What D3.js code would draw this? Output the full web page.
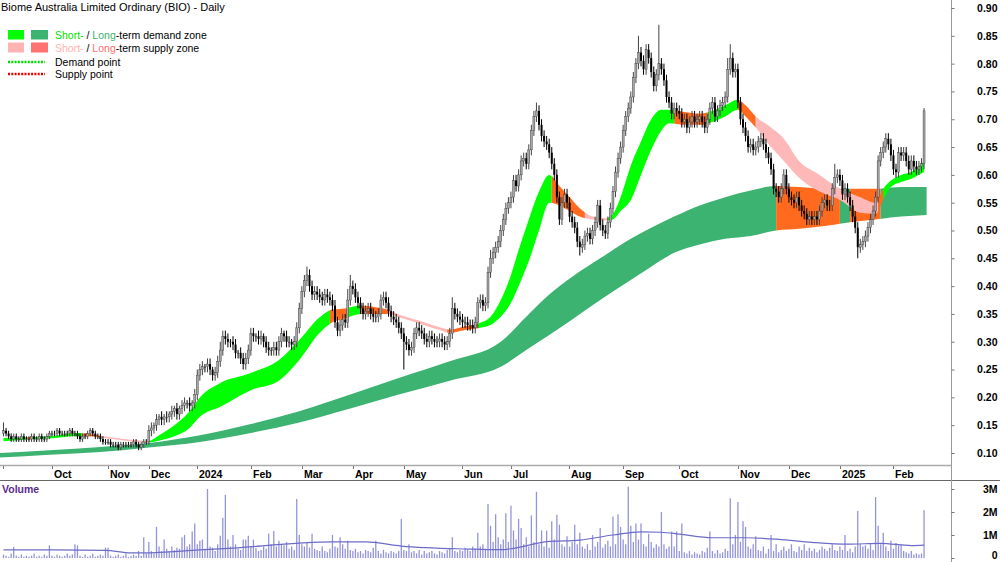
<!DOCTYPE html>
<html>
<head>
<meta charset="utf-8">
<script src="https://cdn.jsdelivr.net/npm/d3@7"></script>
<style>
body{margin:0;background:#fff;}
svg{display:block;font-family:Arial,"Liberation Sans",sans-serif;}
</style>
</head>
<body>
<svg id="chart" width="1000" height="562"></svg>
<script>
// prices in cents, one value per trading bar (Sep 2023 .. Feb 2025)
const opens = [
 13.5,14,13.5,13,12.5,13,12.5,12.5,13,12.5,12.5,12.5,13,12.5,12.5,13,12.5,12.5,13,
 13.5,13.5,13.5,14,13.5,13.5,13.5,13.5,14,13.5,13.5,13,12.5,13,13,13.5,14,13.5,13,13,12.5,12,
 12,12,11.5,11.5,11.5,11,11.5,11.5,11.5,11.5,11.5,12,11.5,11,11.5,12,
 12,14,14.5,15,16,16.5,16,16.5,16.5,17,17.5,18,17,18,18.5,19,19,18.5,19,
 20.5,24,25,25.5,25.5,26,25,24,24.5,26.5,28.5,31,30.5,30,30,29.5,28,28,27,26,27,
 28.5,31.5,31,31,30.5,31,30,29,28.5,28.5,29,28.5,30,31.5,31,30,30,29.5,30,32.5,
 36,39,41,42,40,38.5,39,38.5,38,37.5,38.5,38,37.5,36.5,33.5,32,33,34,33.5,37.5,
 40,39.5,38,37,36,35,35.5,36,35,34.5,34.5,35,37.5,38,37,35.5,34.5,34,33.5,32.5,
 31.5,30,29.5,28.5,29,31.5,32.5,32,31.5,30.5,30,31,30.5,30,30,30.5,30,29.5,30,31.5,36,35,34.5,
 34,33.5,33.5,33,33,32.5,33.5,37,37.5,36.5,37,42.5,45,46,47,48,50,52,54,
 55,56,59,58,60,62.5,63,62,64.5,68,70.5,71.5,69,67,66,65.5,64,62,60,56,52,55,56.5,
 55,52.5,51.5,50.5,48,47,47.5,49,49.5,48.5,50,51.5,54.5,51,50,49.5,51.5,54,57,60.5,63,
 65,68,70.5,72,74,77.5,80,82,80.5,79,82.5,81,78.5,76,78,80,79,77,74,73,71,72,
 71.5,71,69.5,70,68.5,69.5,70.5,69.5,70,70.5,69.5,68.5,70,72,73,70.5,71.5,72.5,73,74,79,81,78.5,
 79,73,70,68.5,67,65,65.5,64.5,65,66,66.5,65.5,64,63,61,57.5,57,56,57.5,60,
 57.5,56,55.5,55,56,54.5,53.5,53,52,52.5,52,52.5,52,53.5,55,55.5,54.5,54.5,57.5,59.5,
 60,59,56.5,57.5,56,54.5,52.5,50.5,47,47.5,48,49,50.5,52,53.5,56,62.5,64,65,66.5,65.5,
 63.5,61,60.5,64,63.5,64,62.5,61,62.5,61.5,61,61.5,62
];
const closes = [
 14,13.5,13,12.5,13,12.5,12.5,13,12.5,12.5,12.5,13,12.5,12.5,13,12.5,12.5,13,13.5,
 13.5,13.5,14,13.5,13.5,13.5,13.5,14,13.5,13.5,13,12.5,13,13,13.5,14,13.5,13,13,12.5,12,12,
 12,11.5,11.5,11.5,11,11.5,11.5,11.5,11.5,11.5,12,11.5,11,11.5,12,12,
 14,14.5,15,16,16.5,16,16.5,16.5,17,17.5,18,17,18,18.5,19,19,18.5,19,20.5,
 24,25,25.5,25.5,26,25,24,24.5,26.5,28.5,31,30.5,30,30,29.5,28,28,27,26,27,28.5,
 31.5,31,31,30.5,31,30,29,28.5,28.5,29,28.5,30,31.5,31,30,30,29.5,30,32.5,36,
 39,41,42,40,38.5,39,38.5,38,37.5,38.5,38,37.5,36.5,33.5,32,33,34,33.5,37.5,40,
 39.5,38,37,36,35,35.5,36,35,34.5,34.5,35,37.5,38,37,35.5,34.5,34,33.5,32.5,31.5,
 30,29.5,28.5,29,31.5,32.5,32,31.5,30.5,30,31,30.5,30,30,30.5,30,29.5,30,31.5,36,35,34.5,34,
 33.5,33.5,33,33,32.5,33.5,37,37.5,36.5,37,42.5,45,46,47,48,50,52,54,55,
 56,59,58,60,62.5,63,62,64.5,68,70.5,71.5,69,67,66,65.5,64,62,60,56,52,55,56.5,55,
 52.5,51.5,50.5,48,47,47.5,49,49.5,48.5,50,51.5,54.5,51,50,49.5,51.5,54,57,60.5,63,65,
 68,70.5,72,74,77.5,80,82,80.5,79,82.5,81,78.5,76,78,80,79,77,74,73,71,72,71.5,
 71,69.5,70,68.5,69.5,70.5,69.5,70,70.5,69.5,68.5,70,72,73,70.5,71.5,72.5,73,74,79,81,78.5,79,
 73,70,68.5,67,65,65.5,64.5,65,66,66.5,65.5,64,63,61,57.5,57,56,57.5,60,57.5,
 56,55.5,55,56,54.5,53.5,53,52,52.5,52,52.5,52,53.5,55,55.5,54.5,54.5,57.5,59.5,60,
 59,56.5,57.5,56,54.5,52.5,50.5,47,47.5,48,49,50.5,52,53.5,56,62.5,64,65,66.5,65.5,63.5,
 61,60.5,64,63.5,64,62.5,61,62.5,61.5,61,61.5,62,71.5
];
// wick lengths above / below the body, cents
const upWick = [
 1.5,.5,.5,.5,.5,.5,.5,.5,.5,.5,.5,.5,.5,.5,.5,.5,.5,.5,.5,
 .5,.5,.5,.5,.5,.5,.5,.5,.5,.5,.5,.5,.5,.5,.5,.5,.5,.5,.5,.5,.5,.5,
 .5,.5,.5,.5,.5,.5,.5,.5,.5,.5,.5,.5,.5,.5,.5,.5,
 1,1,.5,1,.5,1,.5,1,.5,1,.5,1,.5,1,1,.5,1,.5,1,
 1,1,1,.5,1,1,.5,1,1,1.5,1,1,1,.5,1,1,.5,1,1,1,1,
 1,1,.5,1,1,.5,1,1,.5,1,1,1,1,.5,1,1,.5,1,1,1,
 1,1,1.5,1,1,1,1,1,1,1,1,1,1,1,1,1,1,1,2,2,
 1,1,1,1,1,1,1,1,1,1,1,1,1,1,1,1,1,1,1,1,
 1,1,1,1,1,1,1,1,1,1,1,1,1,1,1,1,1,1,1,2,1,1,1,
 1,1,1,1,1,1,1,1,1,1,1,1.5,1,1,1,1,1,1,1,
 1,1,1,1,1,1,1,1,1,1,1.5,1,1,1,1,1,1,1,1,1,1,1,1,
 1,1,1,1,1,1,1,1,1,1,1,1,1,1,1,1,1,1,1,1,1,
 1,1,1,1,1,1,3,1,1,1,1,1,1,1,7,1,1,1,1,1,1,1,
 1,1,1,1,1,1,1,1,1,1,1,1,1,1,1,1,1,1,1,2,2.5,1,1,
 1,1,1,1,1,1,1,1,1,1,1,1,1,1,1,1,1,1,1,1,
 1,1,1,1,1,1,1,1,1,1,1,1,1,1,1,1,1,1,2.5,1,
 1,1,1,1,1,1,1,1,1,1,1,1,1,1,1,1,1,1,1,1,1,
 1,1,1,1,1,1,1,1,1,1,1,1,.5
];
const dnWick = [
 .5,.5,.5,.5,.5,.5,.5,.5,.5,.5,.5,.5,.5,.5,.5,.5,.5,.5,.5,
 .5,.5,.5,.5,.5,.5,.5,.5,.5,.5,.5,.5,.5,.5,.5,.5,.5,.5,.5,.5,.5,.5,
 .5,.5,.5,.5,.5,.5,.5,.5,.5,.5,.5,.5,.5,.5,.5,.5,
 .5,1,1,1,1,1,1,1,1,1,1,1,1,1,1,1,1,1,1,
 1,1,1,1,1,1,1,1,1,1,1,1,1,1,1,1,1,1,1,1,1,
 1,1,1,1,1,1,1,1,1,1,1,1,1,1,1,1,1,1,1,1,
 1,1,1,1,1,1,1,1,1,1,1,1,1,1,1,1,1,1,1,1,
 1,1,1,1,1,1,1,1,1,1,1,1,1,1,1,1,1,1,1,1,
 5,1,1,1,1,1,1,1,1,1,1,1,1,1,1,1,1,1,1,1,1,1,1,
 1,1,1,1,1,1,1,1,1,1,1,1,1,1,1,1,1,1,1,
 1,1,1,1,1,1,1,1,1,1,1,1,1,1,1,1,1,1,1,1,1,1,1,
 1,1,1,1,1.5,1,1,1,1,1,1,1,1,1,1,1,1,1,1,1,1,
 1,1,1,1,1,1,1,1,1,1,1,1,1,1,1,1,1,1,1,1,1,1,
 1,1,1,1,1,1,1,1,1,1,1,1,1,1,1,1,1,1,1,1,1,1,1,
 1,1,1,1,1,1,1,1,1,1,1,1,1,1,1,1,1,1,1,1,
 1,1,1,1,1,1,1,1,1,1,1,1,1,1,1,1,1,1,1,1,
 1,1,1,1,1,1,1,2,1,1,1,1,1,1,1,1,1,1,1,1,1,
 1,1,1,1,1,1,1,1,1,1,1,1,1
];
// volume, millions of shares
const volume = [
 .15,.1,.05,.2,.48,.1,.05,.15,.05,.1,.05,.1,.2,.05,.1,.05,.15,.1,.55,
 .1,.05,.15,.1,.05,.1,.2,.1,.15,.6,.55,.1,.05,.15,.05,.1,.2,.05,.1,.15,.1,.45,
 .45,.1,.05,.1,.15,.05,.1,.2,.05,.1,.15,.1,.3,.1,.9,.2,
 .7,.3,.2,1.35,.5,.3,.8,.4,.3,.5,.35,.45,.4,.9,1.0,.5,.6,1.15,1.5,
 .6,.75,.8,.4,3.0,.5,.45,.3,.6,.97,1.75,2.75,.8,.5,1.0,.6,.4,.35,.8,.8,.97,
 .5,.8,.45,.3,.35,.5,.4,1.07,.6,1.17,.5,.75,.6,.55,.7,.4,.5,.35,2.57,1.0,
 .6,.5,.7,.45,1.05,.4,.35,.3,.5,.3,.25,.4,1.0,.5,.45,.9,.6,.4,.75,.35,
 .3,.4,.25,.3,.2,.35,.3,.25,.45,.75,.3,.2,.35,.25,.2,.3,.25,.2,.3,1.7,
 .35,.3,.6,.25,.3,.2,.35,.15,.3,.2,.25,.3,.2,.15,.3,.25,.2,.35,.4,.9,.3,.25,.35,
 .3,.45,.35,.3,.5,.4,1.1,.5,.6,.4,2.35,1.4,.7,1.9,.9,.6,.8,1.95,.7,
 2.27,1.2,.8,1.7,1.3,.6,.9,.5,1.85,.7,2.88,.6,1.2,.5,1.2,.45,1.6,.8,1.88,1.45,.6,.5,.95,
 .5,.7,1.45,.6,1.1,.5,.4,.6,.35,1.0,.5,.7,1.3,.45,.6,.75,.5,1.8,.6,1.9,1.35,
 .8,.6,3.1,1.4,.7,1.5,.8,1.5,.6,.5,1.05,.7,.45,.6,.5,2.0,.6,.4,.5,1.15,.5,1.15,
 .3,1.5,.25,.2,.3,.15,.25,.2,.15,.3,.25,.45,1.15,.3,.2,.35,.2,.25,.4,.3,2.6,.6,1.0,
 2.43,.7,1.6,1.35,.5,.4,.6,.95,.35,.3,.5,.2,.4,1.0,.3,.6,.25,.35,.5,.3,
 .4,.6,.3,.25,.5,.35,.6,.3,.45,.3,.4,.25,.35,.5,.4,.3,.45,.6,.35,.3,
 .5,.35,1.0,.3,.4,.25,.5,2.04,.6,.5,.55,.4,.6,.35,2.65,1.4,.6,1.1,.5,.3,.75,
 .4,.65,.55,.6,.3,.25,.2,.3,.15,.2,.15,.2,2.08
];
// volume moving average, read at bar positions
const volMaIdx = [0,20,40,50,55,77,90,116,129,142,156,182,195,200,213,226,239,250,258,265,278,291,304,317,331,344,356,361];
const volMa = [.35,.35,.33,.22,.22,.35,.43,.65,.7,.7,.52,.39,.36,.42,.71,.78,1.0,1.14,1.12,1.04,.88,.88,.81,.68,.6,.64,.54,.56];

// short-term zone band (cents) read at bar positions
const shortIdx = [0,8,18,28,34,38,50,57,61,67,73,77,85,97,108,116,124,129,134,140,146,151,155,163,171,175,181,187,191,195,199,202,206,210,214,218,222,226,231,236,239,242,246,250,254,258,261,267,273,278,283,288,291,295,301,306,312,320,328,336,342,345,348,352,356,361];
const shortHi = [12.7,12.8,13.0,13.6,13.4,13.1,12.4,12.2,13.2,15.0,17.5,20.0,22.6,24.4,26.7,30.3,34.4,35.8,36.0,36.5,36.2,35.7,34.9,33.8,32.6,32.2,32.8,33.4,34.5,37.5,42.0,46.5,52.0,57.0,60.0,58.0,56.0,54.0,52.5,52.2,53.0,56.0,61.7,66.0,70.0,71.7,71.7,71.3,71.0,71.5,72.5,73.5,72.5,70.5,68.5,66.5,62.5,60.0,57.5,56.0,55.0,57.5,59.0,60.0,60.5,62.5];
const shortLo = [12.1,12.4,12.6,13.0,13.0,12.8,12.1,11.9,12.2,13.0,14.5,16.5,18.3,21.3,23.0,26.7,31.6,33.5,34.2,35.0,35.0,35.0,34.4,33.3,32.1,31.6,32.1,32.5,33.0,34.5,37.0,40.0,44.5,50.0,55.0,54.5,53.5,52.5,52.0,51.8,52.0,53.5,55.5,60.0,64.5,68.0,69.3,69.0,69.0,69.5,70.5,71.7,70.5,68.5,65.0,62.5,59.5,57.0,55.5,53.2,53.0,55.5,57.8,58.7,59.3,60.5];
const shortZoneStart = [0,9,11,31,38,57,128,135,140,151,174,186,215,228,237,263,276,288,295,343,345];
const shortZoneKind = ['demand','mixed','demand','mixed','supply','demand','mixed','demand','mixed','supply','mixed','demand','mixed','supply','demand','mixed','demand','mixed','supply','mixed','demand'];

// long-term zone band (cents)
const longIdx = [-1.4,18,38,57,77,97,116,136,155,175,195,205,214,224,234,244,254,263,273,283,293,303,312,322,332,342,352,362];
const longHi = [10.0,10.5,11.1,11.8,13.2,15.2,17.5,20.5,23.5,26.5,30.0,34.5,38.5,42.0,45.0,48.0,50.5,52.5,54.5,56.0,57.2,58.0,57.8,57.5,57.5,57.5,57.8,57.8];
const longLo = [9.2,9.7,10.2,11.0,12.0,13.6,15.5,18.0,20.5,23.0,25.5,28.5,31.2,34.3,37.5,40.5,43.5,46.0,47.5,48.5,49.0,50.0,50.3,50.8,51.5,52.0,52.5,52.8];
const longZoneStart = [-2,303,328,332,344];
const longZoneKind = ['long','mixed','long','mixed','long'];

// axis labels
const monthIdx = [0,19,41,57,76,97,117,137,157,180,199,222,243,265,288,308,328,349];
const monthLabels = ['','Oct','Nov','Dec','2024','Feb','Mar','Apr','May','Jun','Jul','Aug','Sep','Oct','Nov','Dec','2025','Feb'];
const priceTicks = [10,15,20,25,30,35,40,45,50,55,60,65,70,75,80,85,90];
const volTicks = [0,1,2,3];

const zoneColor = {demand:'#00ff00', supply:'#ffb8b8', mixed:'#ff6a1f', long:'#3cb371'};
const axisX = 951.5;

const svg = d3.select('#chart');
const defs = svg.append('defs');
const n = closes.length;
const x = d3.scaleLinear().domain([0, n - 1]).range([3.5, 3.5 + (n - 1) * 2.55]);
const y = d3.scaleLinear().domain([10, 90]).range([453, 8]);
const yv = d3.scaleLinear().domain([0, 3]).range([558, 489]);

let clipCount = 0;
function drawBand(g, idx, hi, lo, starts, kinds){
    let pts = idx.map(function(d,k){ return {i:d, hi:hi[k], lo:lo[k]}; });
    let area = d3.area().x(d => x(d.i)).y0(d => y(d.lo)).y1(d => y(d.hi)).curve(d3.curveMonotoneX);
    starts.forEach(function(s,k){
        let x0 = k == 0 ? 0 : x(s);
        let x1 = k == starts.length - 1 ? axisX : x(starts[k+1]);
        let id = 'zc' + (clipCount++);
        defs.append('clipPath').attr('id', id).append('rect')
            .attr('x', x0).attr('y', 0).attr('width', x1 - x0).attr('height', 465);
        g.append('path').datum(pts).attr('d', area)
            .attr('fill', zoneColor[kinds[k]]).attr('clip-path', 'url(#' + id + ')');
    });
}

// frame lines
svg.append('line').attr('x1', 0).attr('x2', axisX).attr('y1', 465.5).attr('y2', 465.5).attr('stroke', '#aaa').attr('stroke-width', 1.5);
svg.append('line').attr('x1', 0).attr('x2', 1000).attr('y1', 480.5).attr('y2', 480.5).attr('stroke', '#666');
svg.append('line').attr('x1', axisX).attr('x2', axisX).attr('y1', 0).attr('y2', 562).attr('stroke', '#999');

// zones
const bandG = svg.append('g');
drawBand(bandG, longIdx, longHi, longLo, longZoneStart, longZoneKind);
drawBand(bandG, shortIdx, shortHi, shortLo, shortZoneStart, shortZoneKind);

// candles
const bars = closes.map(function(c,i){
    let o = opens[i];
    return {i:i, o:o, c:c, h:Math.max(o,c) + upWick[i], l:Math.min(o,c) - dnWick[i]};
});
const candleG = svg.append('g');
candleG.selectAll('line').data(bars).enter().append('line')
    .attr('x1', d => x(d.i)).attr('x2', d => x(d.i))
    .attr('y1', d => y(d.h)).attr('y2', d => y(d.l))
    .attr('stroke', d => d.c > d.o ? '#444' : '#000').attr('stroke-width', 1);
candleG.selectAll('rect').data(bars).enter().append('rect')
    .attr('x', d => x(d.i) - 1).attr('width', 2)
    .attr('y', d => y(Math.max(d.o, d.c)))
    .attr('height', d => Math.max(1, y(Math.min(d.o, d.c)) - y(Math.max(d.o, d.c))))
    .attr('fill', d => d.c > d.o ? '#a6a6a6' : (d.c < d.o ? '#000' : '#444'))
    .attr('stroke', d => d.c > d.o ? '#333' : 'none').attr('stroke-width', 0.4);

// volume
const volG = svg.append('g');
volG.selectAll('line').data(volume).enter().append('line')
    .attr('x1', (d,i) => x(i)).attr('x2', (d,i) => x(i))
    .attr('y1', yv(0)).attr('y2', d => yv(d))
    .attr('stroke', '#9494dc').attr('stroke-width', 1.3);
let maLine = d3.line().x(d => x(d[0])).y(d => yv(d[1])).curve(d3.curveMonotoneX);
volG.append('path').datum(volMaIdx.map((d,k) => [d, volMa[k]]))
    .attr('d', maLine).attr('fill', 'none').attr('stroke', '#6c6cc8').attr('stroke-width', 1.2);

// price axis
const yAxis = d3.axisRight(y).tickValues(priceTicks).tickSize(3).tickFormat(d => (d/100).toFixed(2));
const ya = svg.append('g').attr('transform', 'translate(' + axisX + ',0)').call(yAxis);
ya.select('.domain').remove();
ya.selectAll('line').attr('stroke', '#777');
ya.selectAll('text').attr('x', 46).attr('text-anchor', 'end')
    .style('font-size', '10.5px').style('font-weight', 'bold').attr('fill', '#000');

const vAxis = d3.axisRight(yv).tickValues(volTicks).tickSize(3).tickFormat(d => d ? d + 'M' : '0');
const va = svg.append('g').attr('transform', 'translate(' + axisX + ',0)').call(vAxis);
va.select('.domain').remove();
va.selectAll('line').attr('stroke', '#777');
va.selectAll('text').attr('x', 46).attr('text-anchor', 'end')
    .attr('y', d => d == 0 ? -2.5 : 0)
    .style('font-size', '10.5px').style('font-weight', 'bold').attr('fill', '#000');

// month axis
const mG = svg.append('g');
monthIdx.forEach(function(m,k){
    let mx = Math.round(x(m) - 0.3) + 0.5;
    mG.append('line').attr('x1', mx).attr('x2', mx).attr('y1', 466).attr('y2', 469).attr('stroke', '#777');
    mG.append('text').attr('x', mx + 1.5).attr('y', 477.5).text(monthLabels[k])
        .style('font-size', '10.5px').style('font-weight', 'bold');
});

// title, legend, volume label
svg.append('text').attr('x', 1).attr('y', 11).text('Biome Australia Limited Ordinary (BIO) - Daily')
    .style('font-size', '11px').attr('fill', '#000');
svg.append('text').attr('x', 2).attr('y', 493).text('Volume')
    .style('font-size', '10.5px').style('font-weight', 'bold').attr('fill', '#5b2a90');

const lg = svg.append('g').style('font-size', '10.5px');
lg.append('rect').attr('x', 8).attr('y', 30).attr('width', 16).attr('height', 9.5).attr('fill', zoneColor.demand);
lg.append('rect').attr('x', 31).attr('y', 30).attr('width', 17).attr('height', 9.5).attr('fill', zoneColor.long);
lg.append('rect').attr('x', 8).attr('y', 42.5).attr('width', 16).attr('height', 10).attr('fill', '#ffb3b3');
lg.append('rect').attr('x', 31).attr('y', 42.5).attr('width', 17).attr('height', 10).attr('fill', '#ff7272');
let t1 = lg.append('text').attr('x', 55).attr('y', 39);
t1.append('tspan').text('Short-').attr('fill', '#00e000');
t1.append('tspan').text(' / ').attr('fill', '#000');
t1.append('tspan').text('Long').attr('fill', '#3cb371');
t1.append('tspan').text('-term demand zone').attr('fill', '#000');
let t2 = lg.append('text').attr('x', 55).attr('y', 52);
t2.append('tspan').text('Short-').attr('fill', '#ffb3b3');
t2.append('tspan').text(' / ').attr('fill', '#000');
t2.append('tspan').text('Long').attr('fill', '#ff6f6f');
t2.append('tspan').text('-term supply zone').attr('fill', '#000');
lg.append('line').attr('x1', 8).attr('x2', 45).attr('y1', 62).attr('y2', 62)
    .attr('stroke', '#00dd00').attr('stroke-width', 2.5).attr('stroke-dasharray', '2,1.3');
lg.append('text').attr('x', 55).attr('y', 66).text('Demand point');
lg.append('line').attr('x1', 8).attr('x2', 45).attr('y1', 74).attr('y2', 74)
    .attr('stroke', '#ee0000').attr('stroke-width', 2.5).attr('stroke-dasharray', '2,1.3');
lg.append('text').attr('x', 55).attr('y', 78).text('Supply point');
</script>
</body>
</html>
